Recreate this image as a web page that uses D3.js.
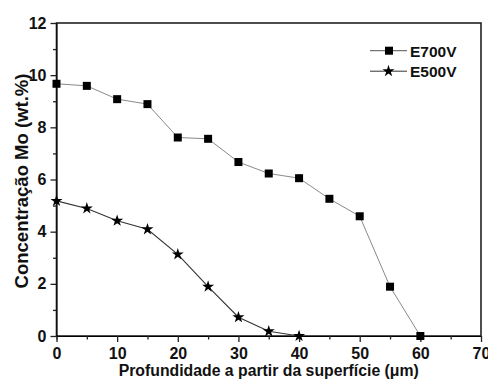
<!DOCTYPE html>
<html>
<head>
<meta charset="utf-8">
<script src="https://cdn.jsdelivr.net/npm/d3@7"></script>
<style>
  body { margin: 0; background: #fff; }
  svg text { font-family: Arial, "Liberation Sans", sans-serif; font-weight: bold; }
</style>
</head>
<body>
<div id="chart"></div>
<script>
// profundidade (µm)
const depthE700 = [0, 5, 10, 15, 20, 25, 30, 35, 40, 45, 50, 55, 60];
const moE700 = [9.67, 9.59, 9.08, 8.89, 7.61, 7.56, 6.67, 6.23, 6.05, 5.26, 4.59, 1.89, 0.0];
const depthE500 = [0, 5, 10, 15, 20, 25, 30, 35, 40];
const moE500 = [5.18, 4.89, 4.42, 4.09, 3.13, 1.89, 0.72, 0.18, 0.0];
const xTicks = [0, 10, 20, 30, 40, 50, 60, 70];
const yTicks = [0, 2, 4, 6, 8, 10, 12];
const seriesNames = ["E700V", "E500V"];

(function () {
    const W = 488, H = 385;
    const M = { top: 23, right: 7, bottom: 49, left: 56.5 };
    const iw = W - M.left - M.right, ih = H - M.top - M.bottom;

    const svg = d3.select('#chart').append('svg')
        .attr('width', W).attr('height', H);
    const g = svg.append('g').attr('transform', `translate(${M.left},${M.top})`);

    const x = d3.scaleLinear().domain([0, 70]).range([0, iw]);
    const y = d3.scaleLinear().domain([0, 12]).range([ih, 0]);

    // frame
    g.append('rect').attr('width', iw).attr('height', ih)
        .attr('fill', 'none').attr('stroke', '#222').attr('stroke-width', 1.6);

    // minor ticks
    const xMinor = d3.axisBottom(x).tickValues(d3.range(5, 70, 10)).tickSize(3.5).tickFormat('');
    const yMinor = d3.axisLeft(y).tickValues(d3.range(1, 12, 2)).tickSize(3.5).tickFormat('');
    g.append('g').attr('transform', `translate(0,${ih})`).call(xMinor);
    g.append('g').call(yMinor);

    // major axes
    const xAxis = g.append('g').attr('transform', `translate(0,${ih})`)
        .call(d3.axisBottom(x).tickValues(xTicks).tickSize(6).tickPadding(5.5));
    const yAxis = g.append('g')
        .call(d3.axisLeft(y).tickValues(yTicks).tickSize(6).tickPadding(4));

    [xAxis, yAxis].forEach(a => {
        a.select('.domain').remove();
        a.selectAll('text').style('font-size', '16px').attr('fill', '#111');
    });
    g.selectAll('.tick line').attr('stroke', '#222').attr('stroke-width', 1.3);

    // E700V
    const line700 = d3.line().x((d, i) => x(depthE700[i])).y(d => y(d));
    g.append('path').datum(moE700).attr('d', line700)
        .attr('fill', 'none').attr('stroke', '#8a8a8a').attr('stroke-width', 1);
    g.selectAll('rect.m700').data(moE700).join('rect')
        .attr('class', 'm700')
        .attr('x', (d, i) => x(depthE700[i]) - 4)
        .attr('y', d => y(d) - 4)
        .attr('width', 8).attr('height', 8)
        .attr('fill', '#000');

    // E500V
    const line500 = d3.line().x((d, i) => x(depthE500[i])).y(d => y(d));
    g.append('path').datum(moE500).attr('d', line500)
        .attr('fill', 'none').attr('stroke', '#333').attr('stroke-width', 1.1);
    const star = d3.symbol().type(d3.symbolStar).size(45);
    g.selectAll('path.m500').data(moE500).join('path')
        .attr('class', 'm500')
        .attr('d', star)
        .attr('transform', (d, i) => `translate(${x(depthE500[i])},${y(d)})`)
        .attr('fill', '#000');

    // legend
    const lg = svg.append('g');
    seriesNames.forEach((name, i) => {
        const ly = 50.7 + i * 20.5;
        lg.append('line').attr('x1', 370).attr('x2', 407).attr('y1', ly).attr('y2', ly)
            .attr('stroke', i === 0 ? '#555' : '#333').attr('stroke-width', 1);
        if (i === 0) {
            lg.append('rect').attr('x', 385).attr('y', ly - 4).attr('width', 8).attr('height', 8).attr('fill', '#000');
        } else {
            lg.append('path').attr('d', star).attr('transform', `translate(388.5,${ly})`).attr('fill', '#000');
        }
        lg.append('text').attr('x', 410).attr('y', ly + 5.8)
            .style('font-size', '15.5px').attr('fill', '#111').text(name);
    });

    // axis titles
    svg.append('text')
        .attr('x', M.left + iw / 2).attr('y', 375.5)
        .attr('text-anchor', 'middle')
        .style('font-size', '15.8px').attr('fill', '#111')
        .text('Profundidade a partir da superfície (μm)');

    svg.append('text')
        .attr('transform', `translate(28,181) rotate(-90)`)
        .attr('text-anchor', 'middle')
        .style('font-size', '18.5px').attr('fill', '#111')
        .text('Concentração Mo (wt.%)');
})();
</script>
</body>
</html>
